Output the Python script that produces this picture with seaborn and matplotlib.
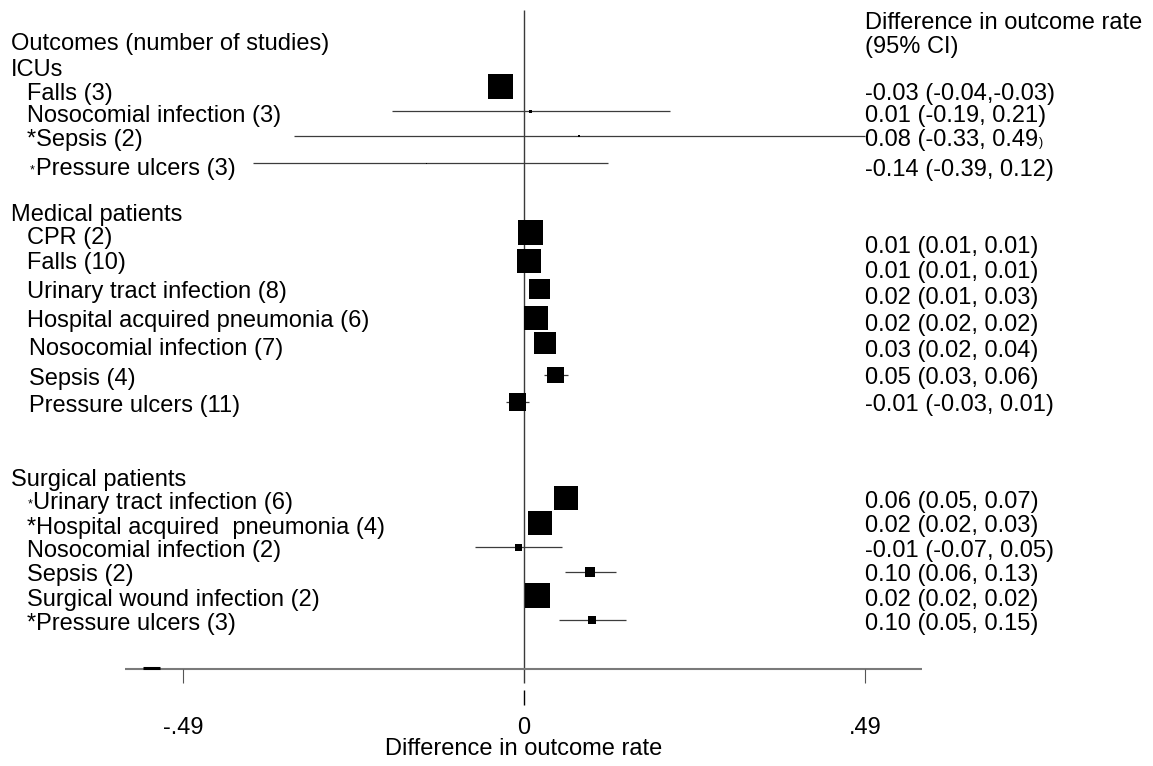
import numpy as np
import pandas as pd
import matplotlib
matplotlib.use("Agg")
import matplotlib.pyplot as plt
import seaborn as sns

# ---------------- data ----------------
groups = ["ICUs", "Medical patients", "Surgical patients"]
labels = [
    "Falls (3)", "Nosocomial infection (3)", "*Sepsis (2)", "*Pressure ulcers (3)",
    "CPR (2)", "Falls (10)", "Urinary tract infection (8)", "Hospital acquired pneumonia (6)",
    "Nosocomial infection (7)", "Sepsis (4)", "Pressure ulcers (11)",
    "*Urinary tract infection (6)", "*Hospital acquired  pneumonia (4)", "Nosocomial infection (2)",
    "Sepsis (2)", "Surgical wound infection (2)", "*Pressure ulcers (3)",
]
group_of = [0, 0, 0, 0, 1, 1, 1, 1, 1, 1, 1, 2, 2, 2, 2, 2, 2]
est = [-0.034, 0.009, 0.079, -0.14,
       0.009, 0.007, 0.022, 0.017, 0.030, 0.045, -0.009,
       0.060, 0.023, -0.008, 0.095, 0.019, 0.098]
lo = [-0.04, -0.19, -0.33, -0.39,
      0.01, 0.01, 0.01, 0.02, 0.02, 0.029, -0.026,
      0.05, 0.02, -0.07, 0.059, 0.02, 0.05]
hi = [-0.03, 0.21, 0.49, 0.12,
      0.01, 0.01, 0.03, 0.02, 0.04, 0.063, 0.007,
      0.07, 0.03, 0.055, 0.132, 0.02, 0.147]
weight = [25, 3, 2, 1,
          25, 24.5, 20.5, 24.5, 21.5, 16.5, 17.5,
          23.5, 23.5, 7, 10, 25, 8]   # relative study weight (square side)
ci_text = [
    "-0.03 (-0.04,-0.03)", "0.01 (-0.19, 0.21)", "0.08 (-0.33, 0.49", "-0.14 (-0.39, 0.12)",
    "0.01 (0.01, 0.01)", "0.01 (0.01, 0.01)", "0.02 (0.01, 0.03)", "0.02 (0.02, 0.02)",
    "0.03 (0.02, 0.04)", "0.05 (0.03, 0.06)", "-0.01 (-0.03, 0.01)",
    "0.06 (0.05, 0.07)", "0.02 (0.02, 0.03)", "-0.01 (-0.07, 0.05)", "0.10 (0.06, 0.13)",
    "0.02 (0.02, 0.02)", "0.10 (0.05, 0.15)",
]
tick_values = [-0.49, 0, 0.49]
tick_labels = ["-.49", "0", ".49"]
left_title = "Outcomes (number of studies)"
right_title = ["Difference in outcome rate", "(95% CI)"]
xlabel = "Difference in outcome rate"

# ---------------- layout (pixels from top) ----------------
W, H = 1153, 766
X0, PPU = 524, 696          # pixel of zero, pixels per unit
row_y = [86, 111, 136, 163,
         232, 261, 289, 318, 343, 375, 402,
         498, 523, 547, 571.5, 595.5, 620]
label_base = [100, 122, 146, 175,
              244, 269, 298, 327, 355, 385, 412,
              509, 534, 557, 581, 606, 630]
label_x = [27, 27, 27, 36,
           27, 27, 27, 27, 29, 29, 29,
           33, 27, 27, 27, 27, 27]
small_star = {3: 30, 11: 28}
ci_base = [100, 122, 146, 176,
           253, 278, 304, 331, 357, 384, 411,
           508, 532, 557, 581, 606, 630]
group_base = [76, 221, 486]
FS = 17
TC = 'black'

sns.set_style("white")
plt.rcParams['font.family'] = ['Liberation Sans', 'DejaVu Sans']
plt.rcParams['text.color'] = TC

fig = plt.figure(figsize=(W / 100, H / 100), dpi=100)
ax = fig.add_axes([0, 0, 1, 1])
ax.set_xlim(-X0 / PPU, (W - X0) / PPU)
ax.set_ylim(H, 0)
ax.axis('off')

lay = fig.add_axes([0, 0, 1, 1])
lay.set_xlim(0, W)
lay.set_ylim(H, 0)
lay.axis('off')
lay.patch.set_alpha(0)

# CI lines
ax.hlines(row_y, lo, hi, color='#3c3c3c', lw=0.9, zorder=2)

# squares
df = pd.DataFrame({"est": est, "row": row_y,
                   "area": (np.array(weight) * 0.72) ** 2})
sns.scatterplot(data=df, x="est", y="row", size="area",
                sizes=(df["area"].min(), df["area"].max()),
                marker="s", color="black", linewidth=0, legend=False,
                ax=ax, zorder=3)
ax.set_xlim(-X0 / PPU, (W - X0) / PPU)
ax.set_ylim(H, 0)
ax.axis('off')

# reference line at zero
ax.vlines(0, 10, 683, color='#3a3a3a', lw=1.0, zorder=1)
ax.vlines(0, 690, 705, color='black', lw=1.0)
# x axis
ax.hlines(669, -0.573, 0.572, color='#7a7a7a', lw=1.5)
ax.hlines(668, -0.547, -0.523, color='black', lw=2.2)
ax.vlines([v for v in tick_values if v != 0], 669, 683, color='#555555', lw=0.8)
for v, t in zip(tick_values, tick_labels):
    ax.text(v, 734, t, ha='center', va='baseline', fontsize=FS, color=TC)
ax.text(0, 755, xlabel, ha='center', va='baseline', fontsize=FS, color=TC)

# left column text
lay.text(11, 50, left_title, va='baseline', fontsize=FS, color=TC)
for g, b in zip(groups, group_base):
    lay.text(11, b, g, va='baseline', fontsize=FS, color=TC)
for i, lab in enumerate(labels):
    if i in small_star:
        lay.text(small_star[i], label_base[i] - 2, "*", va='baseline', fontsize=9, color=TC)
        lab = lab[1:]
    lay.text(label_x[i], label_base[i], lab, va='baseline', fontsize=FS, color=TC)

# right column text
lay.text(865, 29, right_title[0], va='baseline', fontsize=FS, color=TC)
lay.text(865, 53, right_title[1], va='baseline', fontsize=FS, color=TC)
ci_objs = []
for i, t in enumerate(ci_text):
    ci_objs.append(lay.text(865, ci_base[i], t, va='baseline', fontsize=FS, color=TC))

fig.canvas.draw()
r = fig.canvas.get_renderer()
bb = ci_objs[2].get_window_extent(r)
lay.text(bb.x1 + 1, ci_base[2], ")", va='baseline', fontsize=9, color=TC)

fig.savefig("out.png", dpi=100)
